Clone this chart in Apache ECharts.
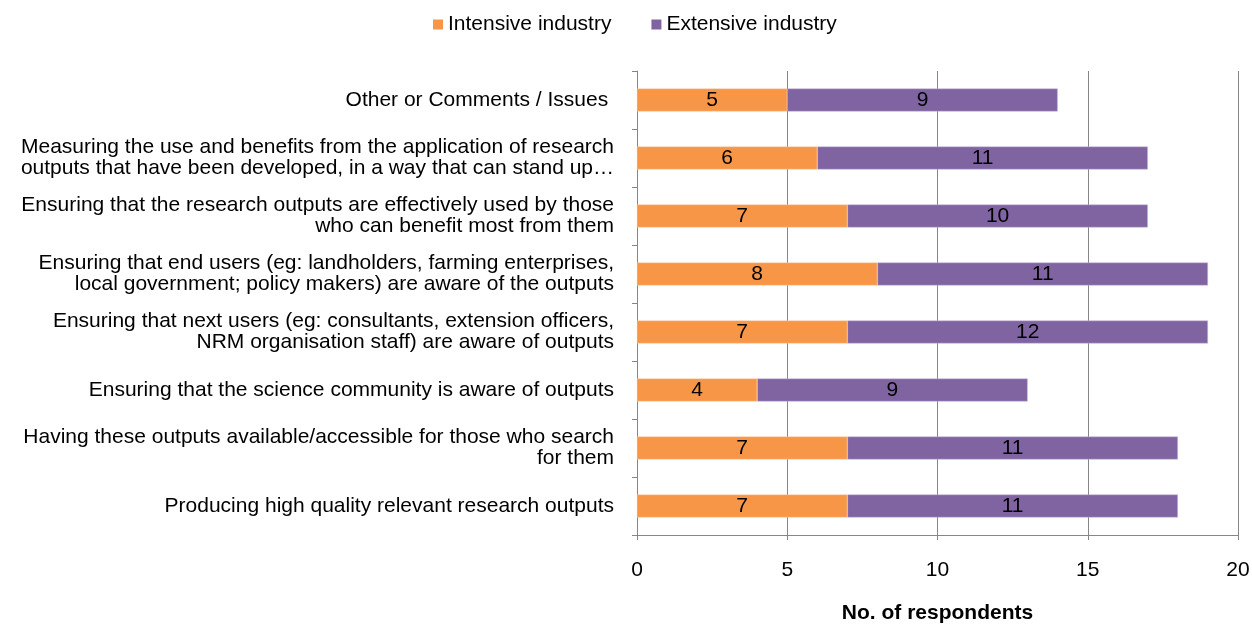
<!DOCTYPE html>
<html>
<head>
<meta charset="utf-8">
<style>
  html, body { margin: 0; padding: 0; background: #fff; }
  #chart { width: 1252px; height: 624px; }
</style>
<script src="https://cdn.jsdelivr.net/npm/echarts@6/dist/echarts.min.js"></script>
</head>
<body>
<div id="chart"></div>
<script>
// Categories, listed from the bottom of the axis to the top
const categories = [
  'Producing high quality relevant research outputs',
  'Having these outputs available/accessible for those who search\nfor them',
  'Ensuring that the science community is aware of outputs',
  'Ensuring that next users (eg: consultants, extension officers,\nNRM organisation staff) are aware of outputs',
  'Ensuring that end users (eg: landholders, farming enterprises,\nlocal government; policy makers) are aware of the outputs',
  'Ensuring that the research outputs are effectively used by those\nwho can benefit most from them',
  'Measuring the use and benefits from the application of research\noutputs that have been developed, in a way that can stand up\u2026',
  'Other or Comments / Issues '
];
const intensive = [7, 7, 4, 7, 8, 7, 6, 5];
const extensive = [11, 11, 9, 12, 11, 10, 11, 9];
const seriesNames = ['Intensive industry', 'Extensive industry'];
const xTicks = { min: 0, max: 20, interval: 5 };

const font = 'Liberation Sans, Arial, sans-serif';
const fs = 21;
const chart = echarts.init(document.getElementById('chart'), null, { renderer: 'canvas' });

const barLabel = {
  show: true,
  position: 'inside',
  color: '#000',
  fontFamily: font,
  fontSize: fs
};

chart.setOption({
  animation: false,
  textStyle: { fontFamily: font },
  legend: {
    data: seriesNames,
    left: 433,
    top: 14,
    padding: 0,
    itemWidth: 10,
    itemHeight: 10,
    itemGap: 40,
    icon: 'rect',
    itemStyle: { borderWidth: 0 },
    textStyle: { fontFamily: font, fontSize: fs, color: '#000' }
  },
  grid: { left: 637, right: 14, top: 71, height: 464, containLabel: false, outerBoundsMode: 'none' },
  xAxis: {
    type: 'value',
    min: xTicks.min,
    max: xTicks.max,
    interval: xTicks.interval,
    name: 'No. of respondents',
    nameLocation: 'middle',
    nameGap: 68,
    nameTextStyle: { fontFamily: font, fontSize: fs, fontWeight: 'bold', color: '#000' },
    axisLine: { show: true, lineStyle: { color: '#868686', width: 1 } },
    axisTick: { show: true, length: 5, lineStyle: { color: '#868686' } },
    axisLabel: { margin: 25, fontFamily: font, fontSize: fs, color: '#000' },
    splitLine: { show: true, lineStyle: { color: '#868686', width: 1 } }
  },
  yAxis: {
    type: 'category',
    data: categories,
    axisLine: { show: true, lineStyle: { color: '#868686', width: 1 } },
    axisTick: { show: true, length: 5, lineStyle: { color: '#868686' } },
    axisLabel: {
      margin: 23,
      fontFamily: font,
      fontSize: fs,
      color: '#000',
      lineHeight: 21,
      align: 'right'
    },
    splitLine: { show: false }
  },
  series: [
    {
      name: seriesNames[0],
      type: 'bar',
      stack: 'total',
      data: intensive,
      barWidth: 23,
      itemStyle: { color: '#F79646', borderColor: '#fbd3b4', borderWidth: 0.5 },
      label: barLabel
    },
    {
      name: seriesNames[1],
      type: 'bar',
      stack: 'total',
      data: extensive,
      barWidth: 23,
      itemStyle: { color: '#8064A2', borderColor: '#c9bcd9', borderWidth: 0.5 },
      label: barLabel
    }
  ]
});
</script>
</body>
</html>
